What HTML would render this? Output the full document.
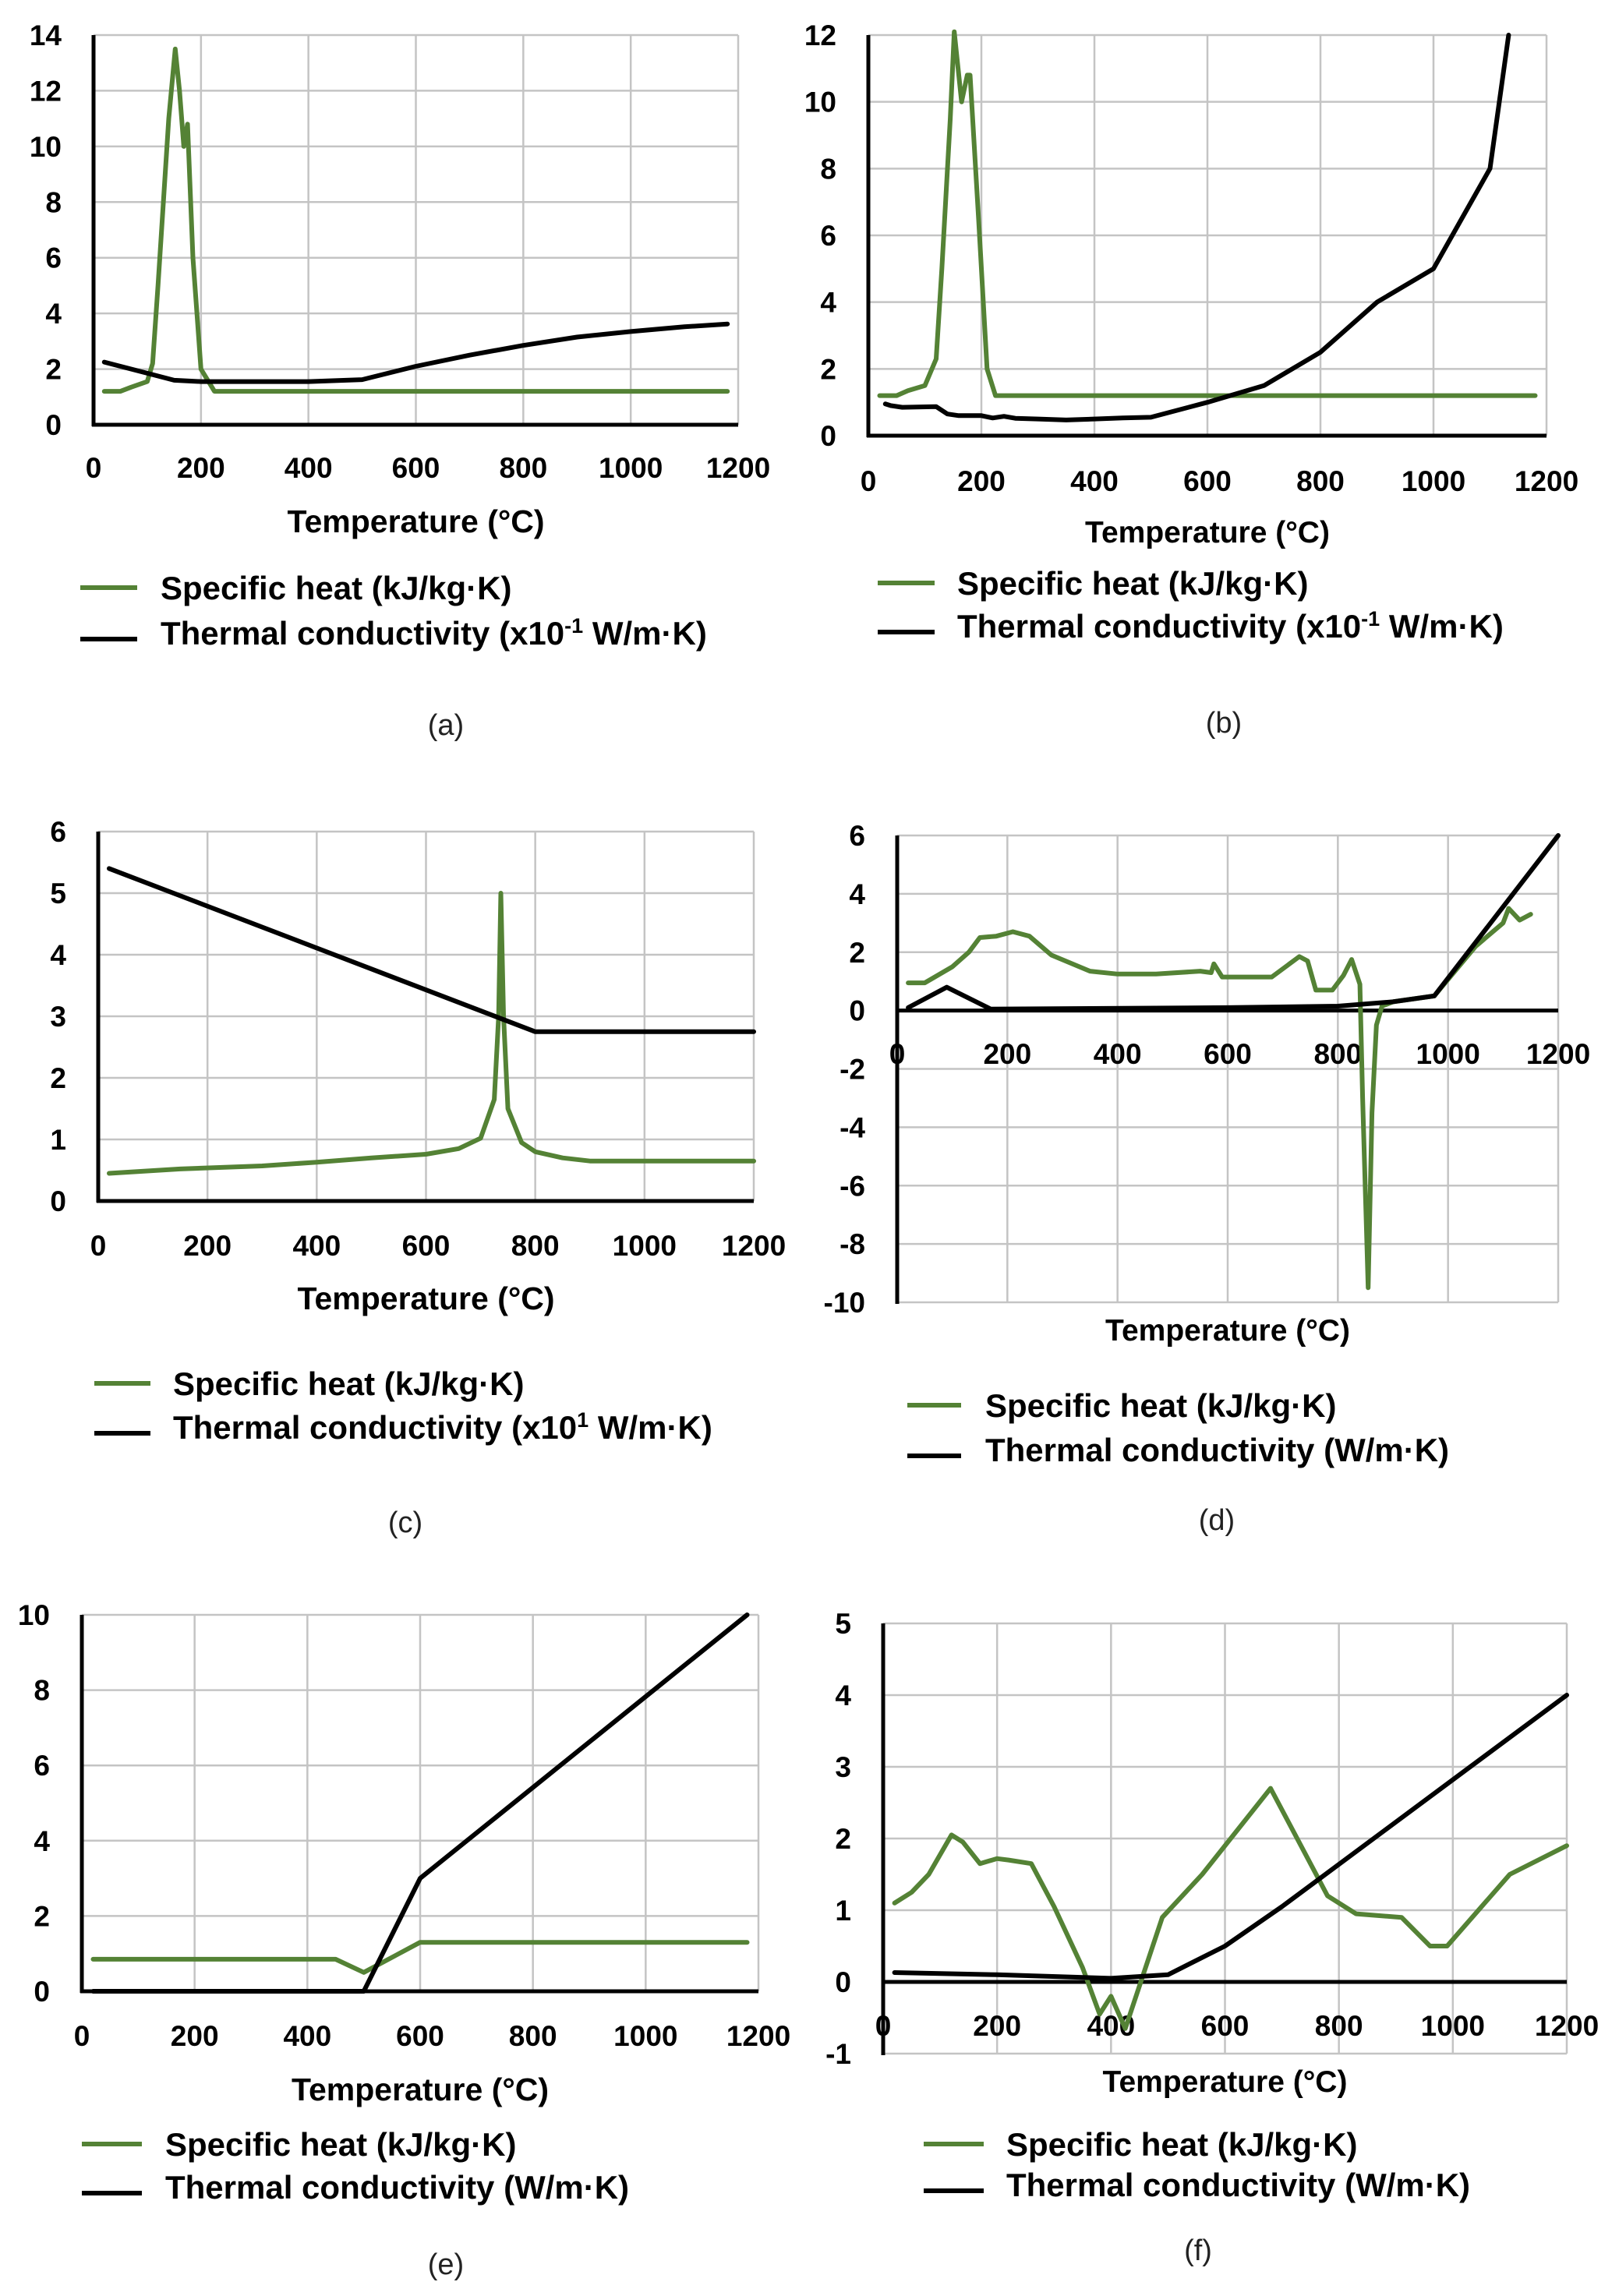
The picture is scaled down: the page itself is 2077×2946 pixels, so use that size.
<!DOCTYPE html>
<html><head><meta charset="utf-8"><style>
html,body{margin:0;padding:0;background:#fff}
svg{display:block}
text{font-family:"Liberation Sans",sans-serif}
</style></head><body>
<svg id="fig" width="2077" height="2946" viewBox="0 0 2077 2946" xmlns="http://www.w3.org/2000/svg"></svg>
<script>
// ---- Panel (a) data ----
const aGreenX=[20,50,70,100,110,120,130,140,152,160,168,175,185,200,225,1180];
const aGreenY=[1.2,1.2,1.35,1.55,2.2,5,8,11,13.5,12,10,10.8,6,2,1.2,1.2];
const aBlackX=[20,100,150,200,400,500,600,700,800,900,1000,1100,1180];
const aBlackY=[2.25,1.85,1.6,1.55,1.55,1.62,2.1,2.5,2.85,3.15,3.35,3.52,3.62];
const aYTicks=[0,2,4,6,8,10,12,14];
// ---- Panel (b) data ----
const bGreenX=[20,50,70,100,120,130,145,152,165,175,180,195,210,225,1180];
const bGreenY=[1.2,1.2,1.35,1.5,2.3,5,9.5,12.1,10,10.8,10.8,6.5,2,1.2,1.2];
const bBlackX=[30,40,60,120,140,160,200,220,240,260,300,350,400,450,500,600,700,800,900,1000,1100,1133];
const bBlackY=[0.95,0.9,0.85,0.87,0.65,0.6,0.6,0.53,0.58,0.52,0.5,0.47,0.5,0.53,0.55,1.0,1.5,2.5,4.0,5.0,8.0,12];
const bYTicks=[0,2,4,6,8,10,12];
// ---- Panel (c) data ----
const cGreenX=[20,150,300,400,500,600,660,700,725,733,737,742,750,775,800,850,900,1200];
const cGreenY=[0.45,0.52,0.57,0.63,0.7,0.76,0.85,1.02,1.65,3,5,3,1.5,0.95,0.8,0.7,0.65,0.65];
const cBlackX=[20,800,1200];
const cBlackY=[5.4,2.75,2.75];
const cYTicks=[0,1,2,3,4,5,6];
// ---- Panel (d) data ----
const dGreenX=[20,50,100,130,150,180,210,240,280,350,400,470,550,570,575,590,680,730,745,760,790,810,825,840,845,855,862,870,880,900,975,1050,1100,1110,1130,1150];
const dGreenY=[0.95,0.95,1.5,2,2.5,2.55,2.7,2.55,1.9,1.35,1.25,1.25,1.35,1.3,1.6,1.15,1.15,1.85,1.7,0.7,0.7,1.2,1.75,0.9,-3,-9.5,-3.5,-0.5,0.15,0.3,0.5,2.2,3,3.5,3.1,3.3];
const dBlackX=[20,90,170,600,800,900,975,1200];
const dBlackY=[0.1,0.8,0.05,0.1,0.15,0.3,0.5,6];
const dYTicks=[-10,-8,-6,-4,-2,0,2,4,6];
// ---- Panel (e) data ----
const eGreenX=[20,450,500,600,1180];
const eGreenY=[0.85,0.85,0.5,1.3,1.3];
const eBlackX=[20,500,600,1180];
const eBlackY=[0,0,3,10];
const eYTicks=[0,2,4,6,8,10];
// ---- Panel (f) data ----
const fGreenX=[20,50,80,120,140,170,200,220,260,300,350,380,400,425,490,560,680,780,830,910,960,990,1100,1200];
const fGreenY=[1.1,1.25,1.5,2.05,1.95,1.65,1.72,1.7,1.65,1.05,0.2,-0.45,-0.2,-0.65,0.9,1.5,2.7,1.2,0.95,0.9,0.5,0.5,1.5,1.9];
const fBlackX=[20,200,400,500,600,700,1200];
const fBlackY=[0.13,0.1,0.05,0.1,0.5,1.05,4];
const fYTicks=[-1,0,1,2,3,4,5];
const xTicks=[0,200,400,600,800,1000,1200];

const NS='http://www.w3.org/2000/svg';
const svg=document.getElementById('fig');
function mk(tag,attrs,parent,txt){const e=document.createElementNS(NS,tag);for(const k in attrs)e.setAttribute(k,attrs[k]);if(txt!==undefined)e.textContent=txt;(parent||svg).appendChild(e);return e;}

function panel(p){
  const g=mk('g',{},svg);
  
  
  const ymin=p.yTicks[0], ymax=p.yTicks[p.yTicks.length-1];
  const sx=v=>p.x0+(v-0)/1200*(p.x1-p.x0);
  const sy=v=>p.yb-(v-ymin)/(ymax-ymin)*(p.yb-p.yt);
  for(const t of xTicks){ if(t===0)continue;
    const l=mk('line',{x1:sx(t),x2:sx(t),y1:p.yt,y2:p.yb,stroke:'#c4c4c4','stroke-width':2.5},g);
    
    
  }
  for(const t of p.yTicks){
    const l=mk('line',{x1:p.x0,x2:p.x1,y1:sy(t),y2:sy(t),stroke:'#c4c4c4','stroke-width':2.5},g);
    
    
  }
  const ya=mk('line',{x1:p.x0,x2:p.x0,y1:p.yt,y2:p.yb+2,stroke:'#000','stroke-width':5},g);
  
  
  const xa=mk('line',{x1:p.x0-2,x2:p.x1,y1:sy(0),y2:sy(0),stroke:'#000','stroke-width':5},g);
  
  
  for(const t of p.yTicks){
    const tx=mk('text',{x:p.x0-41,y:sy(t)+13,'text-anchor':'end','font-size':37,'font-weight':'bold',fill:'#000'},g,String(t));
    
    
  }
  for(const t of xTicks){
    const tx=mk('text',{x:sx(t),y:p.xl+13,'text-anchor':'middle','font-size':37,'font-weight':'bold',fill:'#000'},g,String(t));
    
    
  }
  const tt=mk('text',{x:(p.x0+p.x1)/2+p.tdx,y:p.ty+14,'text-anchor':'middle','font-size':p.tfs,'font-weight':'bold',fill:'#000'},g,'Temperature (°C)');
  
  
  function series(xs,ys,color,name){
    const d=xs.map((x,i)=>(i?'L':'M')+sx(x).toFixed(1)+' '+sy(ys[i]).toFixed(1)).join(' ');
    const pa=mk('path',{d:d,fill:'none',stroke:color,'stroke-width':6,'stroke-linejoin':'round','stroke-linecap':'round'},g);
    
    
  }
  series(p.gx,p.gy,'#548235','specific-heat-line');
  series(p.bx,p.by,'#000','thermal-conductivity-line');
  const s1=mk('line',{x1:p.lsx0,x2:p.lsx1,y1:p.l1,y2:p.l1,stroke:'#548235','stroke-width':6},g);
  
  
  const s2=mk('line',{x1:p.lsx0,x2:p.lsx1,y1:p.l2+8,y2:p.l2+8,stroke:'#000','stroke-width':6},g);
  
  
  const t1=mk('text',{x:p.ltx,y:p.l1+15,'font-size':42,'font-weight':'bold',fill:'#000'},g,'Specific heat (kJ/kg·K)');
  
  
  const t2=mk('text',{x:p.ltx,y:p.l2+15,'font-size':42,'font-weight':'bold',fill:'#000'},g);
  
  
  if(p.sup){
    mk('tspan',{},t2,'Thermal conductivity (x10');
    mk('tspan',{'font-size':27,dy:-15},t2,p.sup);
    mk('tspan',{dy:15},t2,' W/m·K)');
  } else { t2.textContent='Thermal conductivity (W/m·K)'; }
  const cap=mk('text',{x:p.cx,y:p.cy+13,'text-anchor':'middle','font-size':38,fill:'#222'},g,'('+p.id+')');
  
  
}

panel({id:'a',x0:120,x1:947,yt:45,yb:545,yTicks:aYTicks,xl:600,ty:669,tdx:0,tfs:41,gx:aGreenX,gy:aGreenY,bx:aBlackX,by:aBlackY,
  lsx0:103,lsx1:176,ltx:206,l1:754,l2:812,sup:'-1',cx:572,cy:930});
panel({id:'b',x0:1114,x1:1984,yt:45,yb:559,yTicks:bYTicks,xl:617,ty:682,tdx:0,tfs:39,gx:bGreenX,gy:bGreenY,bx:bBlackX,by:bBlackY,
  lsx0:1126,lsx1:1199,ltx:1228,l1:748,l2:803,sup:'-1',cx:1570,cy:927});
panel({id:'c',x0:126,x1:967,yt:1067,yb:1541,yTicks:cYTicks,xl:1598,ty:1666,tdx:0,tfs:41,gx:cGreenX,gy:cGreenY,bx:cBlackX,by:cBlackY,
  lsx0:121,lsx1:193,ltx:222,l1:1775,l2:1831,sup:'1',cx:520,cy:1953});
panel({id:'d',x0:1151,x1:1999,yt:1072,yb:1671,yTicks:dYTicks,xl:1352,ty:1706,tdx:0,tfs:39,gx:dGreenX,gy:dGreenY,bx:dBlackX,by:dBlackY,
  lsx0:1164,lsx1:1233,ltx:1264,l1:1803,l2:1860,sup:null,cx:1561,cy:1950});
panel({id:'e',x0:105,x1:973,yt:2072,yb:2555,yTicks:eYTicks,xl:2612,ty:2681,tdx:0,tfs:41,gx:eGreenX,gy:eGreenY,bx:eBlackX,by:eBlackY,
  lsx0:105,lsx1:182,ltx:212,l1:2751,l2:2806,sup:null,cx:572,cy:2905});
panel({id:'f',x0:1133,x1:2010,yt:2083,yb:2635,yTicks:fYTicks,xl:2599,ty:2670,tdx:0,tfs:39,gx:fGreenX,gy:fGreenY,bx:fBlackX,by:fBlackY,
  lsx0:1185,lsx1:1262,ltx:1291,l1:2751,l2:2803,sup:null,cx:1537,cy:2887});
</script>
</body></html>
